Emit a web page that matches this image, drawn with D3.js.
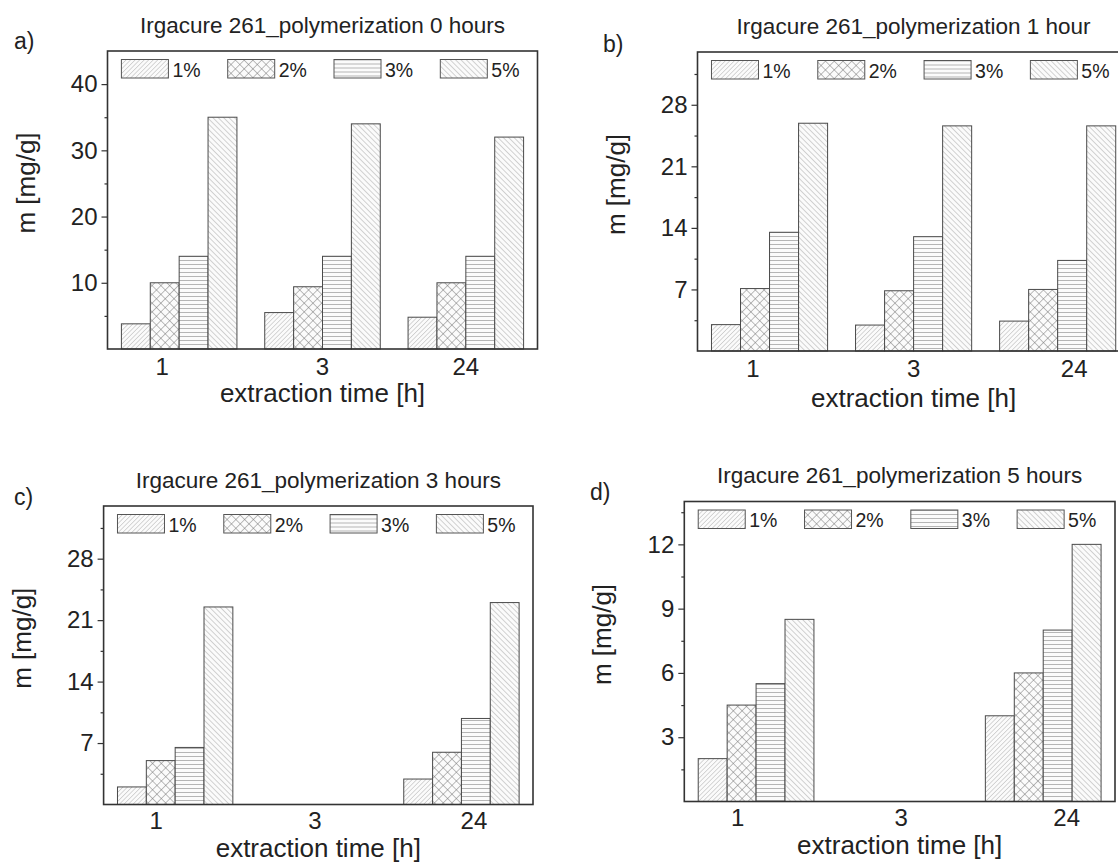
<!DOCTYPE html>
<html>
<head>
<meta charset="utf-8">
<script src="https://cdn.jsdelivr.net/npm/d3@7"></script>
<style>
  body { margin: 0; background: #fff; }
  text { font-family: "Liberation Sans", Arial, sans-serif; fill: #222; }
</style>
</head>
<body>
<div id="chart"></div>
<script>
// extraction time categories and initiator concentrations
const categories = ["1", "3", "24"];
const series = ["1%", "2%", "3%", "5%"];

const titles = [
  "Irgacure 261_polymerization 0 hours",
  "Irgacure 261_polymerization 1 hour",
  "Irgacure 261_polymerization 3 hours",
  "Irgacure 261_polymerization 5 hours"
];
const letters = ["a)", "b)", "c)", "d)"];

// values per category (rows) and per series (columns), m [mg/g]
const valuesA = [[3.8, 10.0, 14.0, 35.0], [5.5, 9.4, 14.0, 34.0], [4.8, 10.0, 14.0, 32.0]];
const valuesB = [[3.0, 7.1, 13.5, 25.9], [2.95, 6.85, 13.0, 25.6], [3.4, 7.0, 10.3, 25.6]];
const valuesC = [[2.0, 5.0, 6.5, 22.5], [null, null, null, null], [2.9, 5.95, 9.8, 23.0]];
const valuesD = [[2.0, 4.5, 5.5, 8.5], [null, null, null, null], [4.0, 6.0, 8.0, 12.0]];

const yMax = [45, 34, 34, 14];
const ticksA = [10, 20, 30, 40], minorA = [5, 15, 25, 35];
const ticksB = [7, 14, 21, 28], minorB = [3.5, 10.5, 17.5, 24.5, 31.5];
const ticksD = [3, 6, 9, 12], minorD = [1.5, 4.5, 7.5, 10.5, 13.5];

const W = 1118, H = 867;
const svg = d3.select("#chart").append("svg")
  .attr("width", W).attr("height", H);

// hatch patterns
const defs = svg.append("defs");
const hatch = (id, size, angle, color, sw, cross) => {
  const p = defs.append("pattern")
    .attr("id", id)
    .attr("patternUnits", "userSpaceOnUse")
    .attr("width", size).attr("height", size)
    .attr("patternTransform", `rotate(${angle})`);
  p.append("rect").attr("width", size).attr("height", size).attr("fill", "#fbfbfb");
  p.append("line").attr("x1", 0).attr("y1", 0).attr("x2", 0).attr("y2", size)
    .attr("stroke", color).attr("stroke-width", sw);
  if (cross) {
    p.append("line").attr("x1", 0).attr("y1", 0).attr("x2", size).attr("y2", 0)
      .attr("stroke", color).attr("stroke-width", sw);
  }
};
hatch("p1", 3.2, 45, "#a0a0a0", 0.8, false);
hatch("p2", 6.2, 45, "#707070", 0.9, true);
hatch("p3", 4, 90, "#606060", 0.9, false);
hatch("p5", 3.8, -45, "#909090", 0.8, false);
const fills = ["url(#p1)", "url(#p2)", "url(#p3)", "url(#p5)"];

const panels = [
  { values: valuesA, ymax: yMax[0], ticks: ticksA, minor: minorA,
    left: 107.5, top: 51, right: 537.5, bottom: 349,
    letter: [14, 49], shift: [-17, 0, 0], tickY: 26, labelY: 53 },
  { values: valuesB, ymax: yMax[1], ticks: ticksB, minor: minorB,
    left: 697.5, top: 52, right: 1129.7, bottom: 351,
    letter: [603, 52], shift: [-16.5, 0, 16.5], tickY: 26, labelY: 56 },
  { values: valuesC, ymax: yMax[2], ticks: ticksB, minor: minorB,
    left: 103.6, top: 506, right: 533, bottom: 804.5,
    letter: [14, 505], shift: [-19, -3.5, 12.5], tickY: 24, labelY: 52 },
  { values: valuesD, ymax: yMax[3], ticks: ticksD, minor: minorD,
    left: 684.3, top: 501.5, right: 1115, bottom: 801.5,
    letter: [590, 500], shift: [-18.5, 1.5, 23.5], tickY: 24, labelY: 52 }
];

panels.forEach((pn, k) => {
  const g = svg.append("g");
  const x0 = d3.scaleBand()
    .domain(categories)
    .range([pn.left, pn.right])
    .paddingInner(0.194)
    .paddingOuter(0.097);
  const x1 = d3.scaleBand()
    .domain(series)
    .range([0, x0.bandwidth()]);
  const y = d3.scaleLinear()
    .domain([0, pn.ymax])
    .range([pn.bottom, pn.top]);

  // bars
  categories.forEach((c, ci) => {
    g.append("g")
      .attr("transform", `translate(${x0(c)},0)`)
      .selectAll("rect")
      .data(series.map((s, si) => ({ s, si, v: pn.values[ci][si] })).filter(d => d.v != null))
      .join("rect")
      .attr("x", d => x1(d.s))
      .attr("y", d => y(d.v))
      .attr("width", x1.bandwidth())
      .attr("height", d => y(0) - y(d.v))
      .attr("fill", d => fills[d.si])
      .attr("stroke", "#4a4a4a")
      .attr("stroke-width", 1);
  });

  // y axis
  const ya = g.append("g")
    .attr("transform", `translate(${pn.left},0)`)
    .call(d3.axisLeft(y).tickValues(pn.ticks).tickSize(6).tickPadding(4));
  ya.select(".domain").remove();
  ya.selectAll("line").attr("stroke", "#333").attr("stroke-width", 1.2);
  ya.selectAll("text").attr("font-size", 24).attr("fill", "#222")
    .style("font-family", "Liberation Sans, Arial, sans-serif");
  const ym = g.append("g")
    .attr("transform", `translate(${pn.left},0)`)
    .call(d3.axisLeft(y).tickValues(pn.minor).tickSize(3).tickFormat(""));
  ym.select(".domain").remove();
  ym.selectAll("line").attr("stroke", "#333").attr("stroke-width", 1.2);

  // x axis labels
  const xa = g.append("g")
    .attr("transform", `translate(0,${pn.bottom})`)
    .call(d3.axisBottom(x0).tickSize(0).tickPadding(0));
  xa.select(".domain").remove();
  xa.selectAll("text")
    .attr("font-size", 24).attr("fill", "#222")
    .style("font-family", "Liberation Sans, Arial, sans-serif")
    .attr("dy", null)
    .attr("y", pn.tickY)
    .attr("x", (d, i) => pn.shift[i]);

  // frame
  g.append("rect")
    .attr("x", pn.left).attr("y", pn.top)
    .attr("width", pn.right - pn.left).attr("height", pn.bottom - pn.top)
    .attr("fill", "none").attr("stroke", "#333").attr("stroke-width", 1.6);

  // legend
  const lg = g.append("g")
    .attr("transform", `translate(${x0(categories[0])},${pn.top + 8.5})`);
  series.forEach((s, si) => {
    lg.append("rect")
      .attr("x", si * 106.3).attr("y", 0)
      .attr("width", 47).attr("height", 18.5)
      .attr("fill", fills[si]).attr("stroke", "#555").attr("stroke-width", 1);
    lg.append("text")
      .attr("x", si * 106.3 + 51).attr("y", 17)
      .attr("font-size", 19.5)
      .text(s);
  });

  const cx = (pn.left + pn.right) / 2;
  const cy = (pn.top + pn.bottom) / 2;

  g.append("text")
    .attr("x", cx).attr("y", pn.top - 18.5)
    .attr("text-anchor", "middle")
    .attr("font-size", 22.5)
    .text(titles[k]);

  g.append("text")
    .attr("x", pn.letter[0]).attr("y", pn.letter[1])
    .attr("font-size", 23)
    .text(letters[k]);

  g.append("text")
    .attr("transform", `translate(${pn.left - 73},${cy - 17}) rotate(-90)`)
    .attr("text-anchor", "middle")
    .attr("font-size", 26)
    .text("m [mg/g]");

  g.append("text")
    .attr("x", cx).attr("y", pn.bottom + pn.labelY)
    .attr("text-anchor", "middle")
    .attr("font-size", 26)
    .text("extraction time [h]");
});
</script>
</body>
</html>
